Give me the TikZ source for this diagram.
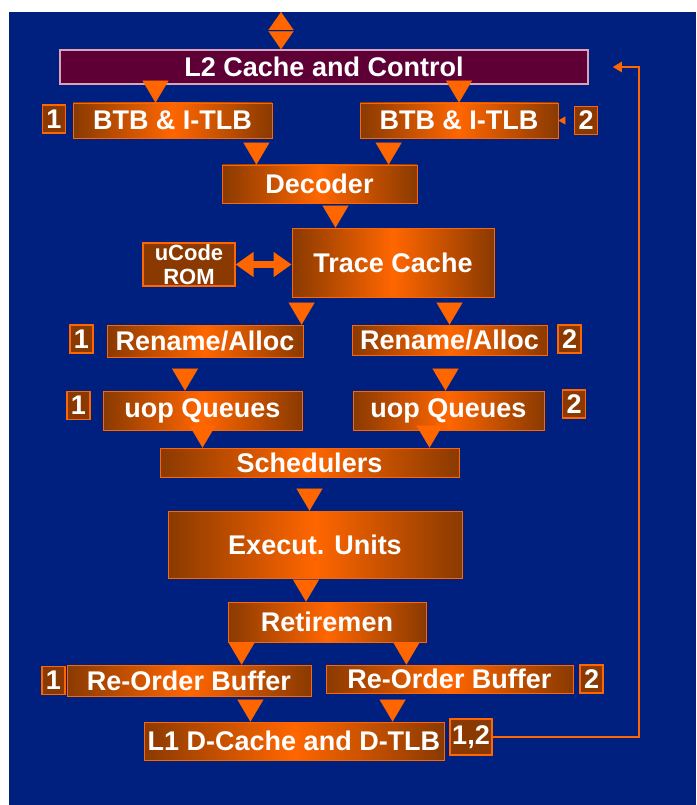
\documentclass[tikz,border=0pt]{standalone}
\usepackage{fontspec}
\setmainfont{Liberation Sans}
\usepackage{tikz}
\usetikzlibrary{arrows.meta}
\usepackage{xcolor}

\definecolor{bgblue}{HTML}{00207F}
\definecolor{orng}{HTML}{FF6600}
\definecolor{brwn}{HTML}{8A3A00}
\definecolor{plum}{HTML}{5E0036}
\definecolor{plumline}{HTML}{D9A3BC}

\begin{document}
\begin{tikzpicture}[x=1pt, y=-1pt,
    unit/.style={draw=orng, line width=0.8pt, left color=brwn, right color=brwn, middle color=orng,
        text=white, inner sep=0pt, font=\bfseries\fontsize{27}{30}\selectfont},
    tag/.style={draw=orng, line width=1.2pt, fill=brwn, text=white, inner sep=0pt,
        minimum width=23pt, minimum height=28pt, font=\bfseries\fontsize{27}{30}\selectfont},
    flow/.style={draw=bgblue, line width=0.1pt, shorten <=2pt, -{Triangle[width=26pt,length=22pt,color=orng]}},
    dflow/.style={draw=bgblue, line width=0.1pt,
        {Triangle[width=25pt,length=18pt,color=orng]}-{Triangle[width=25pt,length=18pt,color=orng]}},
    romflow/.style={draw=orng, line width=7pt, {Triangle[width=24pt,length=18pt]}-{Triangle[width=24pt,length=18pt]}},
    fback/.style={draw=orng, line width=2.5pt, -{Triangle[width=10pt,length=9pt]}},
    tick/.style={draw=bgblue, line width=0.1pt, -{Triangle[width=8pt,length=7pt,color=orng]}}]
\useasboundingbox (0,0) rectangle (696,805);
\fill[bgblue] (9,12) rectangle (696,805);

\node[draw=plumline, line width=1.5pt, fill=plum, text=white, inner sep=0pt,
    minimum width=528pt, minimum height=34pt, font=\bfseries\fontsize{27}{30}\selectfont]
    (l2) at (324,67) {L2 Cache and Control};

\node[unit, minimum width=199pt, minimum height=35pt] (btbA) at (172.5,120.5) {BTB \& I-TLB};
\node[unit, minimum width=198pt, minimum height=35pt] (btbB) at (459,120.5) {BTB \& I-TLB};
\node[unit, minimum width=195pt, minimum height=38pt] (dec) at (319.5,184) {Decoder};
\node[unit, minimum width=202pt, minimum height=69pt] (trace) at (393,262.5) {Trace Cache};
\node[tag, minimum width=92pt, minimum height=43pt, align=center,
    font=\bfseries\fontsize{22}{24}\selectfont] (ucode) at (189,264.5) {uCode\\ROM};
\node[unit, minimum width=196pt, minimum height=32pt] (renA) at (205,341) {Rename/Alloc};
\node[unit, minimum width=195pt, minimum height=30pt] (renB) at (449.5,340) {Rename/Alloc};
\node[unit, minimum width=199pt, minimum height=39pt] (uopA) at (202.5,410.5) {uop Queues};
\node[unit, minimum width=191pt, minimum height=39pt] (uopB) at (448.5,410.5) {uop Queues};
\node[unit, minimum width=299pt, minimum height=29pt] (sched) at (309.5,462.5) {Schedulers};
\node[unit, minimum width=294pt, minimum height=67pt] (exec) at (315,544.5) {Execut. Units};
\node[unit, minimum width=198pt, minimum height=40pt] (ret) at (327,622) {Retiremen};
\node[unit, minimum width=244pt, minimum height=31pt] (robA) at (189,680.5) {Re-Order Buffer};
\node[unit, minimum width=247pt, minimum height=28pt] (robB) at (449.5,679) {Re-Order Buffer};
\node[unit, minimum width=300pt, minimum height=38pt] (l1) at (294,741) {L1 D-Cache and D-TLB};
\node[tag, minimum width=42pt, minimum height=36pt] (tag12) at (471,737) {1,2};

% thread tags
\foreach \nm/\x/\y/\t in {tagAa/54/119/1, tagBa/586/120.5/2, tagAb/81.5/339/1, tagBb/569.5/339/2,
    tagAc/78.5/405.5/1, tagBc/574/404/2, tagAd/53.5/680.5/1, tagBd/591.5/679/2}
    \node[tag] (\nm) at (\x,\y) {\t};

% Arrows down the pipeline
\coordinate (ext) at (281,12);
\draw[dflow] (ext) -- (ext |- l2.north);
\draw[flow] ([xshift=-17pt]btbA.north |- l2.south) -- ([xshift=-17pt]btbA.north);
\draw[flow] (btbB.north |- l2.south) -- (btbB.north);
\draw[tick] (tagBa.west) -- (btbB.east);
\draw[flow] ([xshift=-16pt]btbA.south east) -- ([xshift=-16pt]btbA.south east |- dec.north);
\draw[flow] ([xshift=29pt]btbB.south west) -- ([xshift=29pt]btbB.south west |- dec.north);
\draw[flow] ([xshift=16pt]dec.south) -- ([xshift=16pt]dec.south |- trace.north);
\draw[romflow] (ucode.east) -- (ucode.east -| trace.west);
\draw[flow] ([xshift=10pt]trace.south west) -- ([xshift=10pt]trace.south west |- renA.north);
\draw[flow] (trace.south -| renB.north) -- (renB.north);
\draw[flow] ([xshift=-20pt]renA.south) -- ([xshift=-20pt]renA.south |- uopA.north);
\draw[flow] ([xshift=-4pt]renB.south) -- ([xshift=-4pt]renB.south |- uopB.north);
\draw[flow] (uopA.south) -- (uopA.south |- sched.north);
\draw[flow] ([xshift=-19pt]uopB.south) -- ([xshift=-19pt]uopB.south |- sched.north);
\draw[flow] (sched.south) -- (sched.south |- exec.north);
\draw[flow] ([xshift=-9pt]exec.south) -- ([xshift=-9pt]exec.south |- ret.north);
\draw[flow] ([xshift=14pt]ret.south west) -- ([xshift=14pt]ret.south west |- robA.north);
\draw[flow] ([xshift=-20pt]ret.south east) -- ([xshift=-20pt]ret.south east |- robB.north);
\draw[flow] ([xshift=-61pt]robA.south east) -- ([xshift=-61pt]robA.south east |- l1.north);
\draw[flow] ([xshift=67pt]robB.south west) -- ([xshift=67pt]robB.south west |- l1.north);

% Feedback to L2
\coordinate (fb) at (639,67);
\draw[fback] (tag12.east) -| (fb) -- ([xshift=24pt]l2.east);
\end{tikzpicture}
\end{document}
